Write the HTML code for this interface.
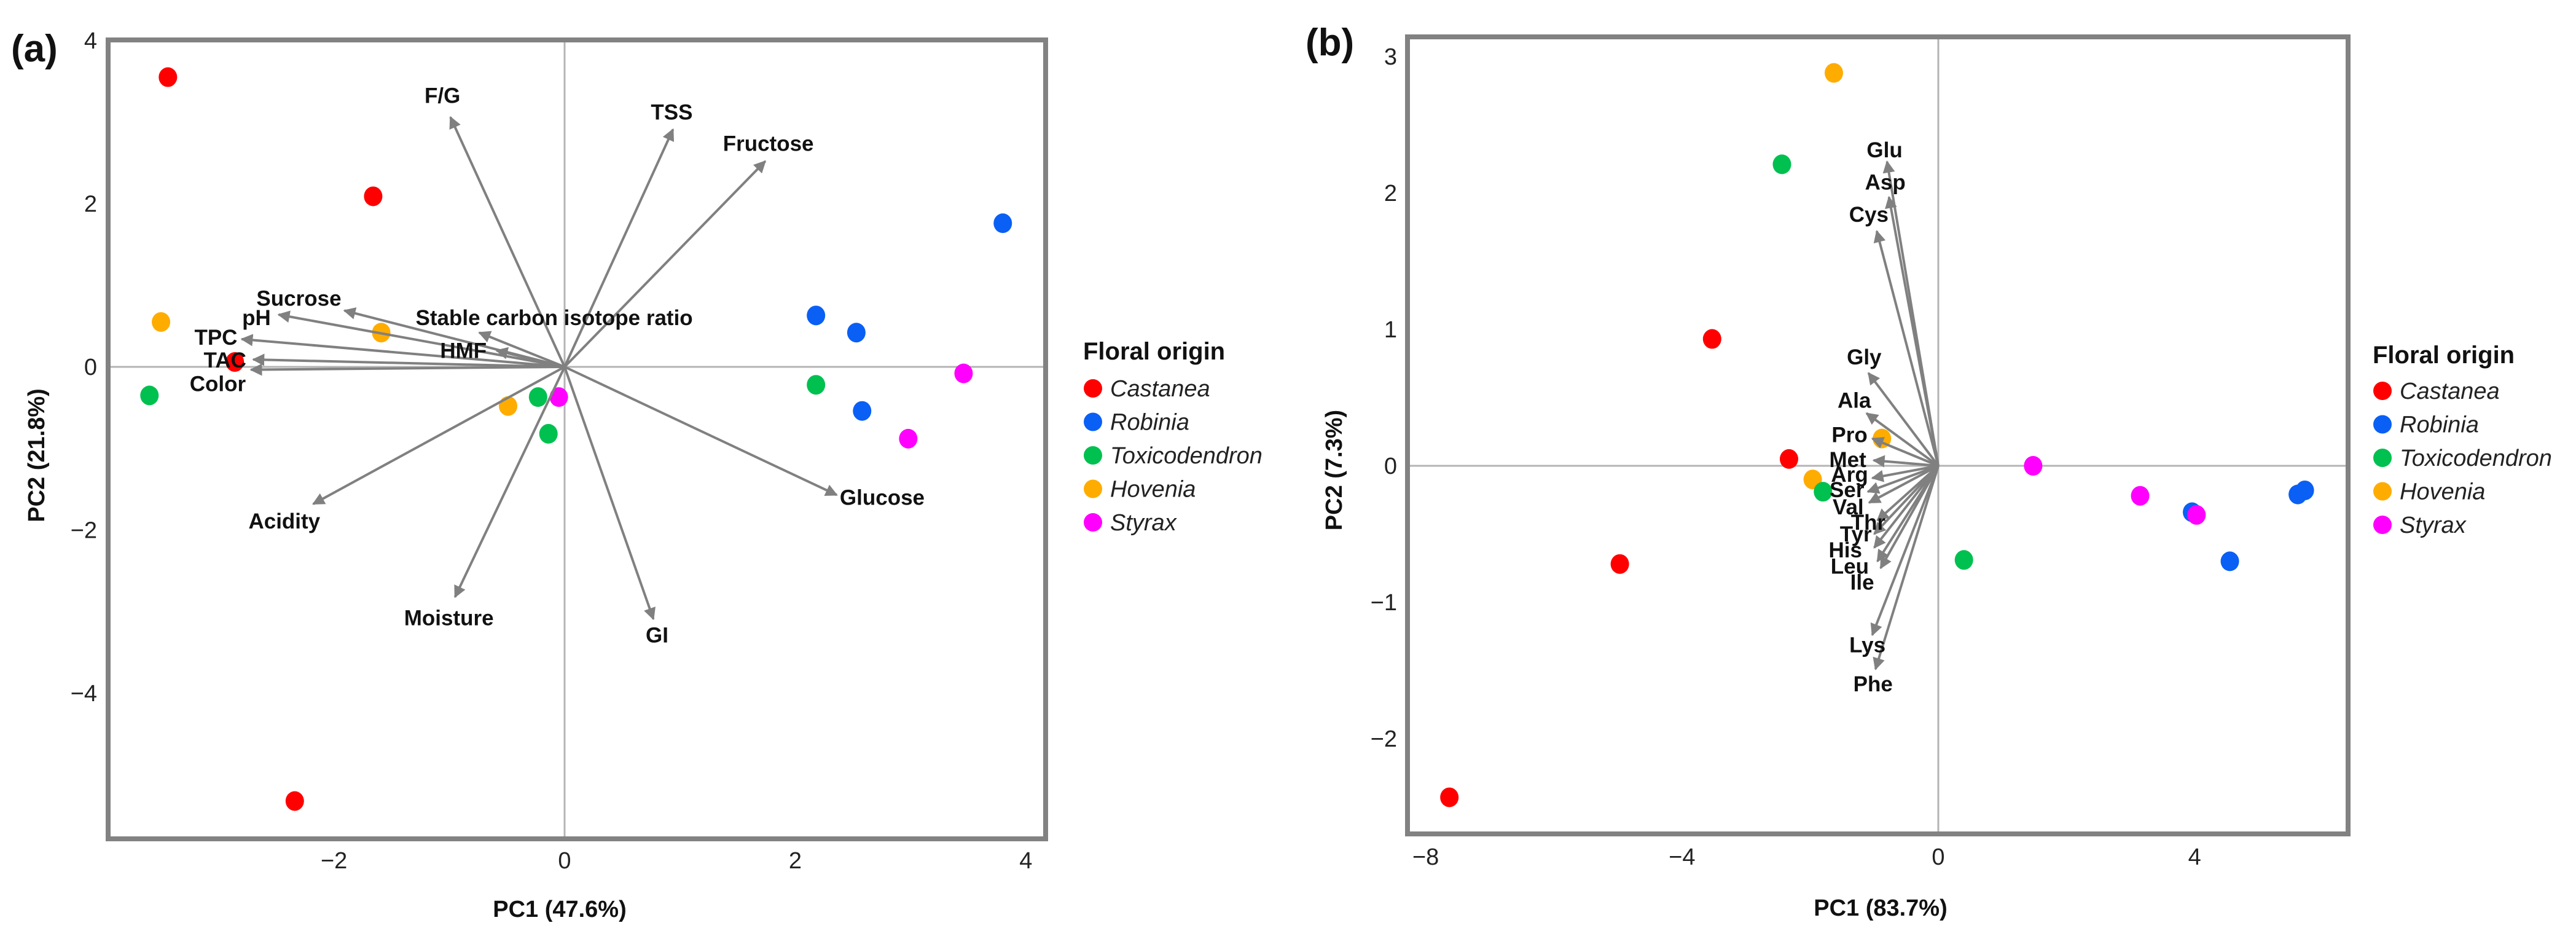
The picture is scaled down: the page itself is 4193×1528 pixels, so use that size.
<!DOCTYPE html>
<html><head><meta charset="utf-8"><title>PCA biplots</title>
<style>
html,body{margin:0;padding:0;background:#fff;}
svg{display:block;font-family:"Liberation Sans",sans-serif;}
.tick{font-size:38px;fill:#222;}
.lab{font-size:35px;font-weight:bold;fill:#111;}
.ax{font-size:38px;font-weight:bold;fill:#111;}
</style></head>
<body>
<svg id="fig" width="4193" height="1528" viewBox="0 0 4193 1528" xmlns="http://www.w3.org/2000/svg">
<defs><marker id="ah" viewBox="0 0 10 10" refX="9" refY="5" markerWidth="5" markerHeight="5" orient="auto"><path d="M0,0 L10,5 L0,10 z" fill="#808080"/></marker></defs>
<g id="pa"></g>
<g id="pb"></g>
</svg>
<script>
// ---------- Panel (a) data ----------
const aGroups = ["Castanea","Castanea","Castanea","Castanea","Hovenia","Hovenia","Hovenia","Toxicodendron","Toxicodendron","Toxicodendron","Toxicodendron","Styrax","Styrax","Styrax","Robinia","Robinia","Robinia","Robinia"];
const aPC1 = [-3.44,-1.66,-2.86,-2.34,-3.50,-1.59,-0.49,-3.60,-0.23,-0.14,2.18,-0.05,3.46,2.98,3.80,2.18,2.53,2.58];
const aPC2 = [3.55,2.09,0.06,-5.32,0.55,0.42,-0.48,-0.35,-0.37,-0.82,-0.22,-0.37,-0.08,-0.88,1.76,0.63,0.42,-0.54];
const aVars = ["F/G","TSS","Fructose","Glucose","GI","Moisture","Acidity","Sucrose","pH","TPC","TAC","Color","Stable carbon isotope ratio","HMF"];
const aLoadX = [-0.99,0.94,1.74,2.36,0.77,-0.95,-2.18,-1.91,-2.48,-2.80,-2.70,-2.72,-0.74,-0.59];
const aLoadY = [3.06,2.91,2.52,-1.57,-3.09,-2.82,-1.68,0.69,0.64,0.34,0.09,-0.035,0.42,0.20];
const aLabDx = [-13,-2,5,74,6,-10,-47,-74,-36,-42,-46,-54,122,-54];
const aLabDy = [-35,-28,-29,4,26,34,28,-20,5,-3,1,23,-24,0];
const aXTicks = [-2,0,2,4];
const aYTicks = [-4,-2,0,2,4];

// ---------- Panel (b) data ----------
const bGroups = ["Hovenia","Toxicodendron","Castanea","Castanea","Hovenia","Toxicodendron","Hovenia","Castanea","Castanea","Toxicodendron","Styrax","Styrax","Robinia","Styrax","Robinia","Robinia","Robinia"];
const bPC1 = [-1.63,-2.44,-3.53,-2.33,-1.96,-1.80,-0.88,-4.97,-7.63,0.40,1.48,3.15,3.96,4.03,4.55,5.61,5.72];
const bPC2 = [2.88,2.21,0.93,0.05,-0.10,-0.19,0.20,-0.72,-2.43,-0.69,0.0,-0.22,-0.34,-0.36,-0.70,-0.21,-0.18];
const bVars = ["Glu","Asp","Cys","Gly","Ala","Pro","Met","Arg","Ser","Val","Thr","Tyr","His","Leu","Ile","Lys","Phe"];
const bLoadX = [-0.80,-0.77,-0.96,-1.09,-1.12,-1.03,-1.01,-1.03,-1.10,-1.08,-0.95,-1.0,-1.0,-0.95,-0.90,-1.03,-0.98];
const bLoadY = [2.23,1.97,1.72,0.68,0.385,0.20,0.04,-0.09,-0.19,-0.27,-0.40,-0.50,-0.60,-0.70,-0.75,-1.24,-1.49];
const bLabDx = [-4,-6,-13,-7,-20,-37,-42,-37,-34,-34,-15,-30,-47,-45,-30,-8,-4];
const bLabDy = [-19,-24,-27,-26,-21,-6,-1,-6,-3,7,3,0,4,8,23,16,24];
const bXTicks = [-8,-4,0,4];
const bYTicks = [-2,-1,0,1,2,3];

const legendNames = ["Castanea","Robinia","Toxicodendron","Hovenia","Styrax"];
const colors = {Castanea:"#ff0000",Robinia:"#0a5ff5",Toxicodendron:"#00c050",Hovenia:"#ffac00",Styrax:"#ff00ff"};

const NS="http://www.w3.org/2000/svg";
function mk(parent,tag,attrs,text){const e=document.createElementNS(NS,tag);for(const k in attrs)e.setAttribute(k,attrs[k]);if(text!==undefined)e.textContent=text;parent.appendChild(e);return e;}

function drawPanel(g,cfg){
  const sx=v=>cfg.x0+v*cfg.kx, sy=v=>cfg.y0-v*cfg.ky;
  const B=cfg.box;
  let l=mk(g,"line",{x1:B[0],x2:B[2],y1:sy(0),y2:sy(0),stroke:"#b4b4b4","stroke-width":3});
  
  
  l=mk(g,"line",{x1:sx(0),x2:sx(0),y1:B[1],y2:B[3],stroke:"#b4b4b4","stroke-width":3});
  
  
  const fr=mk(g,"rect",{x:B[0],y:B[1],width:B[2]-B[0],height:B[3]-B[1],fill:"none",stroke:"#828282","stroke-width":8});
  
  
  cfg.xt.forEach(t=>{const e=mk(g,"text",{x:sx(t),y:cfg.xtY,"text-anchor":"middle",class:"tick"},t<0?"\u2212"+(-t):String(t));
    
    });
  cfg.yt.forEach(t=>{const e=mk(g,"text",{x:cfg.ytX,y:sy(t)+13,"text-anchor":"end",class:"tick"},t<0?"\u2212"+(-t):String(t));
    
    });
  cfg.px.forEach((v,i)=>{const c=mk(g,"ellipse",{cx:sx(v),cy:sy(cfg.py[i]),rx:15,ry:16,fill:colors[cfg.grp[i]]});
    
    });
  cfg.lx.forEach((v,i)=>{const a=mk(g,"line",{x1:sx(0),y1:sy(0),x2:sx(v),y2:sy(cfg.ly[i]),stroke:"#808080","stroke-width":4,"marker-end":"url(#ah)"});
    
    });
  cfg.lx.forEach((v,i)=>{const t=mk(g,"text",{x:sx(v)+cfg.dx[i],y:sy(cfg.ly[i])+cfg.dy[i]+12,"text-anchor":"middle",class:"lab"},cfg.vars[i]);
    
    });
  let t=mk(g,"text",{x:cfg.xTitle[0],y:cfg.xTitle[1],"text-anchor":"middle",class:"ax"},cfg.xLab);
  
  
  t=mk(g,"text",{x:0,y:0,"text-anchor":"middle",class:"ax",transform:`translate(${cfg.yTitle[0]},${cfg.yTitle[1]}) rotate(-90)`},cfg.yLab);
  
  
  t=mk(g,"text",{x:cfg.tag[0],y:cfg.tag[1],style:"font-size:62px;font-weight:bold;fill:#111"},cfg.tagText);
  
  
  const lg=mk(g,"g",{});
  
  
  t=mk(lg,"text",{x:cfg.leg[0],y:cfg.leg[1]+14,style:"font-size:40px;font-weight:bold;fill:#111"},"Floral origin");
  
  
  legendNames.forEach((n,i)=>{const y=cfg.leg[2]+i*54.5;
    const d=mk(lg,"circle",{cx:cfg.leg[0]+16,cy:y,r:15,fill:colors[n]});
    
    
    const e=mk(lg,"text",{x:cfg.leg[0]+44,y:y+13,style:"font-size:38px;font-style:italic;fill:#222"},n);
    
    });
}

drawPanel(document.getElementById("pa"),{x0:919,y0:597,kx:187.7,ky:132.8,box:[176,65,1702,1365],
  xt:aXTicks,yt:aYTicks,xtY:1413,ytX:158,px:aPC1,py:aPC2,grp:aGroups,lx:aLoadX,ly:aLoadY,dx:aLabDx,dy:aLabDy,vars:aVars,
  xLab:"PC1 (47.6%)",xTitle:[911,1492],yLab:"PC2 (21.8%)",yTitle:[72,741],tag:[18,100],tagText:"(a)",leg:[1763,571,632]});
drawPanel(document.getElementById("pb"),{x0:3155,y0:758,kx:104.3,ky:222,box:[2291,60,3822,1357],
  xt:bXTicks,yt:bYTicks,xtY:1407,ytX:2274,px:bPC1,py:bPC2,grp:bGroups,lx:bLoadX,ly:bLoadY,dx:bLabDx,dy:bLabDy,vars:bVars,
  xLab:"PC1 (83.7%)",xTitle:[3061,1490],yLab:"PC2 (7.3%)",yTitle:[2184,765],tag:[2125,90],tagText:"(b)",leg:[3862,577,636]});
</script>
</body></html>
